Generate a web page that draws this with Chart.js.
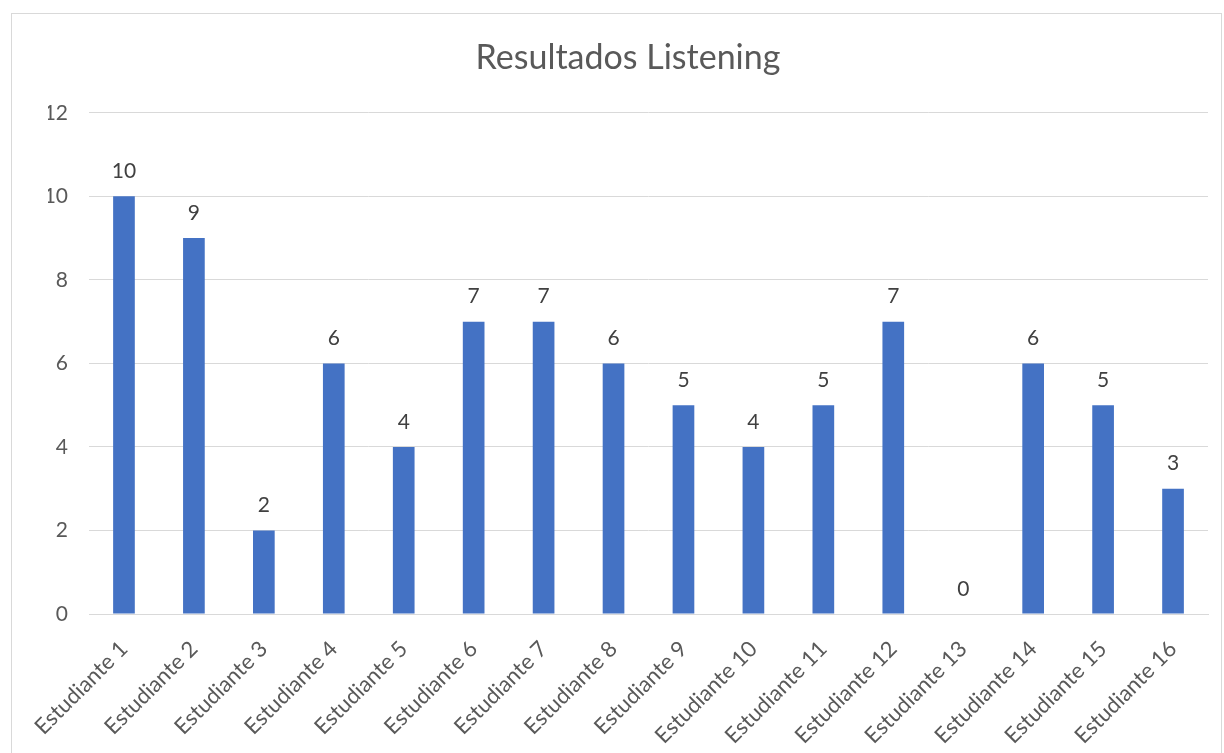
<!DOCTYPE html>
<html>
<head>
<meta charset="utf-8">
<script src="https://cdn.jsdelivr.net/npm/chart.js@4.4.1/dist/chart.umd.min.js"></script>
<style>
  html, body { margin: 0; padding: 0; background: #fff; overflow: hidden; }
  #frame { position: absolute; left: 11px; top: 13px; width: 1209px; height: 800px; border: 1px solid #d9d9d9; }
  #wrap { position: absolute; left: 0; top: 0; width: 1224px; height: 753px; }
</style>
</head>
<body>
<div id="frame"></div>
<div id="wrap"><canvas id="listeningChart"></canvas></div>
<script>
const students = [
  'Estudiante 1', 'Estudiante 2', 'Estudiante 3', 'Estudiante 4',
  'Estudiante 5', 'Estudiante 6', 'Estudiante 7', 'Estudiante 8',
  'Estudiante 9', 'Estudiante 10', 'Estudiante 11', 'Estudiante 12',
  'Estudiante 13', 'Estudiante 14', 'Estudiante 15', 'Estudiante 16'
];
const scores = [10, 9, 2, 6, 4, 7, 7, 6, 5, 4, 5, 7, 0, 6, 5, 3];
const yTicks = [0, 2, 4, 6, 8, 10, 12];

const fontFamily = "Lato, 'Open Sans', sans-serif";

// draws the value above each bar
const valueLabels = {
  id: 'valueLabels',
  afterDatasetsDraw(chart) {
    const ctx = chart.ctx;
    const meta = chart.getDatasetMeta(0);
    ctx.save();
    ctx.font = '21px ' + fontFamily;
    ctx.fillStyle = '#404040';
    ctx.textAlign = 'center';
    ctx.textBaseline = 'middle';
    meta.data.forEach((bar, i) => {
      ctx.fillText(String(scores[i]), bar.x, bar.y - 25);
    });
    ctx.restore();
  }
};

new Chart(document.getElementById('listeningChart'), {
  type: 'bar',
  data: {
    labels: students,
    datasets: [{
      data: scores,
      backgroundColor: '#4472C4',
      borderWidth: 0,
      categoryPercentage: 0.31,
      barPercentage: 1
    }]
  },
  options: {
    responsive: true,
    maintainAspectRatio: false,
    animation: false,
    layout: {
      padding: { left: 48, right: 16, top: 0, bottom: 0 }
    },
    plugins: {
      legend: { display: false },
      tooltip: { enabled: false },
      title: {
        display: true,
        text: 'Resultados Listening',
        color: '#595959',
        font: { size: 34, weight: 'normal', family: fontFamily },
        padding: { top: 38, bottom: 34 }
      }
    },
    scales: {
      y: {
        min: 0,
        max: 12,
        afterBuildTicks: (axis) => { axis.ticks = yTicks.map(v => ({ value: v })); },
        afterFit: (axis) => { axis.width = 41; },
        border: { display: false },
        grid: { color: '#d9d9d9', lineWidth: 1, drawTicks: false },
        ticks: {
          color: '#595959',
          padding: 21,
          font: { size: 21, family: fontFamily }
        }
      },
      x: {
        afterFit: (axis) => { axis.height = 139; },
        border: { display: true, color: '#d9d9d9', width: 1 },
        grid: { display: false },
        ticks: {
          color: '#595959',
          minRotation: 45,
          maxRotation: 45,
          autoSkip: false,
          padding: 14,
          font: { size: 22, family: fontFamily }
        }
      }
    }
  },
  plugins: [valueLabels]
});
</script>
</body>
</html>
